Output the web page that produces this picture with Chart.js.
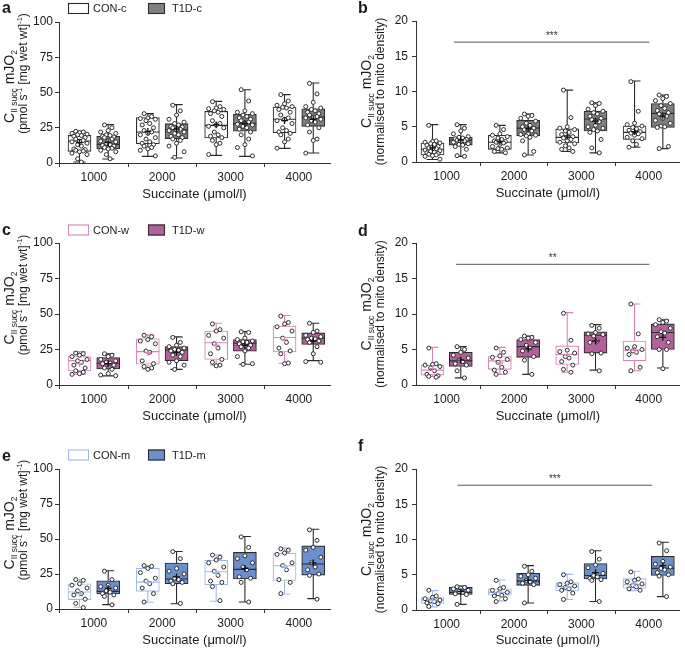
<!DOCTYPE html>
<html><head><meta charset="utf-8">
<script src="https://cdn.jsdelivr.net/npm/chart.js@4.4.0/dist/chart.umd.min.js"></script>
<style>
html,body{margin:0;padding:0;background:#fff;}
#wrap{position:relative;width:685px;height:648px;overflow:hidden;background:#fff;}
canvas{position:absolute;}
</style></head>
<body><div id="wrap">
<canvas id="pa" width="340" height="215" style="left:0;top:0"></canvas>
<canvas id="pb" width="345" height="215" style="left:340px;top:0"></canvas>
<canvas id="pc" width="340" height="215" style="left:0;top:215px"></canvas>
<canvas id="pd" width="345" height="215" style="left:340px;top:215px"></canvas>
<canvas id="pe" width="340" height="218" style="left:0;top:430px"></canvas>
<canvas id="pf" width="345" height="218" style="left:340px;top:430px"></canvas>
</div>
<script>
const FONT = "'Liberation Sans', Arial, Helvetica, sans-serif";
const categories = ['1000', '2000', '3000', '4000'];
const xTitle = 'Succinate (μmol/l)';
const yTicksAbs = [0, 25, 50, 75, 100];
const yTicksNorm = [0, 5, 10, 15, 20];

// box stats per concentration: [min, q1, median, q3, max]
// ---- panel a (-c) absolute
const aConBox = [[0.7, 8.3, 15.6, 19.6, 22.5], [4.7, 13.7, 22.0, 32.2, 35], [5.4, 17.7, 26.7, 36.6, 43.7], [10.4, 21.5, 31, 39.7, 48.5]];
const aConMean = [14.5, 22.5, 27, 30];
const aConPts = [
  [22.5, 22, 21.5, 21, 20.5, 20, 19.5, 19, 18, 17, 16, 15.5, 15, 14, 13, 12, 10, 9.5, 9, 8.5, 8, 7, 6, 3, 0.7],
  [35, 33, 32, 31.5, 31, 30, 28, 27, 25, 23, 22, 21, 20, 18, 17, 15, 14, 13, 12, 11, 10, 9, 5],
  [43.5, 40, 39, 38.5, 38, 37, 36, 35, 33, 30, 28, 27, 26, 25, 22, 20, 19, 18, 16, 14, 13, 6],
  [48.5, 44, 42, 41, 40, 39.5, 39, 38, 36, 34, 32, 31, 30, 28, 25, 23, 22, 21, 20, 17, 15, 10.5]];
const aT1dBox = [[2.8, 9.9, 13.2, 18.9, 27.2], [3.5, 17.3, 23.6, 27.9, 41.4], [4.7, 22.5, 27.9, 34.5, 52], [7.1, 26, 32.6, 38.5, 56.7]];
const aT1dMean = [14.5, 24, 28, 31];
const aT1dPts = [
  [27, 25, 23, 22, 21, 20, 19.5, 19, 18.5, 18, 17, 16, 15.5, 15, 14, 13, 12.5, 12, 11, 10.5, 10, 9, 8, 6, 3],
  [41, 37, 34, 31, 29, 28, 27, 26, 25.5, 25, 24, 23.5, 23, 22, 21, 20, 19, 18, 17, 16, 14, 12, 8, 4],
  [52, 44, 37, 36, 35, 34, 33, 32, 31, 30, 29, 28, 27.5, 27, 26, 25, 24, 22, 20, 17, 13, 11, 5],
  [56.5, 49, 43, 40, 39, 38, 37, 36, 35, 34, 33, 32.5, 32, 31, 30, 29, 27, 25, 22, 17, 16, 7]];

// ---- panel b normalised
const bConBox = [[0.35, 1.0, 1.8, 2.7, 5.3], [1.3, 1.8, 2.8, 3.8, 5.2], [1.5, 2.7, 3.5, 4.7, 10.2], [2.1, 3.2, 4.2, 5.1, 11.5]];
const bConMean = [2.0, 2.9, 3.7, 4.3];
const bConPts = [
  [5.2, 3.0, 2.9, 2.8, 2.7, 2.6, 2.5, 2.4, 2.2, 2.0, 1.9, 1.8, 1.7, 1.6, 1.5, 1.4, 1.3, 1.2, 1.1, 1.0, 0.9, 0.8, 0.4],
  [5.2, 4.6, 4.0, 3.8, 3.6, 3.4, 3.2, 3.0, 2.9, 2.8, 2.7, 2.5, 2.2, 2.0, 1.9, 1.8, 1.5, 1.3],
  [10.2, 6.3, 5.0, 4.8, 4.6, 4.4, 4.2, 3.9, 3.6, 3.4, 3.2, 3.0, 2.8, 2.6, 2.3, 2.0, 1.8, 1.5],
  [11.4, 7.2, 5.5, 5.3, 5.1, 4.9, 4.7, 4.5, 4.3, 4.1, 4.0, 3.8, 3.5, 3.3, 3.0, 2.5, 2.1]];
const bT1dBox = [[0.8, 2.4, 3.1, 3.5, 5.3], [1.0, 3.7, 4.8, 5.9, 6.8], [1.3, 4.4, 6.1, 7.2, 8.4], [1.9, 4.9, 6.9, 8.3, 9.5]];
const bT1dMean = [3.1, 4.7, 5.8, 6.5];
const bT1dPts = [
  [5.3, 4.8, 4.4, 4.0, 3.6, 3.5, 3.4, 3.3, 3.2, 3.1, 3.0, 2.9, 2.8, 2.6, 2.5, 2.4, 2.2, 1.8, 0.9, 0.8],
  [6.8, 6.6, 6.5, 6.2, 5.8, 5.5, 5.2, 5.0, 4.8, 4.6, 4.4, 4.0, 3.9, 3.8, 3.7, 3.5, 3.0, 1.5, 1.0],
  [8.4, 8.3, 8.0, 7.5, 7.2, 7.0, 6.8, 6.5, 6.2, 6.0, 5.7, 5.2, 5.0, 4.8, 4.6, 4.4, 4.2, 3.2, 2.0, 1.3],
  [9.5, 9.3, 9.0, 8.7, 8.3, 8.0, 7.6, 7.3, 7.0, 6.8, 6.5, 6.2, 5.9, 5.5, 5.1, 5.0, 4.9, 2.2, 1.9]];
const bSig = [1.11, 4.01, 17.0];
const bStars = '***';

// ---- panel c (-w) absolute
const cConBox = [[7.5, 9.9, 17.2, 20, 23.5], [11.3, 14.6, 23.5, 32.5, 35.3], [14, 18, 29.8, 38, 43.5], [15.3, 23.3, 33.4, 41.6, 48.9]];
const cConMean = [15, 23, 28, 32];
const cConPts = [
  [22.5, 22, 21, 20, 18, 17, 16, 14, 12, 10, 9, 8, 7.5],
  [35, 34, 32, 31, 29, 24, 23, 17, 15, 13, 12, 11],
  [43, 39, 38, 35, 33, 29, 26, 22, 18, 16, 14, 13.5],
  [48.5, 44, 43, 41, 38, 33, 30, 26, 24, 22, 15.5, 15]];
const cT1dBox = [[6.4, 11.3, 15.3, 19.3, 21.9], [11, 17.2, 24.7, 27, 33.9], [14.6, 23.8, 29.4, 32, 37.6], [17.2, 28.5, 32.9, 36.7, 43.5]];
const cT1dMean = [15, 23, 28, 31];
const cT1dPts = [
  [22, 21, 20, 18, 17, 16, 15.5, 15, 14, 12, 11, 8, 7, 6.5],
  [33.5, 30, 28, 27, 26, 25, 24.5, 24, 23, 21, 20, 17, 16, 14, 11],
  [37.5, 37, 33, 32, 31, 30.5, 30, 29, 28, 27, 26, 24, 20, 15, 14.5],
  [43.5, 38, 37, 35, 34, 33, 32.5, 32, 31, 30, 27, 22, 16.5, 16]];

// ---- panel d normalised
const dConBox = [[1.2, 1.4, 2.1, 2.8, 5.3], [1.5, 2.2, 3.4, 4.0, 5.3], [1.8, 2.9, 4.3, 5.5, 10.2], [2.0, 3.4, 4.9, 6.2, 11.4]];
const dConMean = [2.3, 3.1, 4.3, 4.9];
const dConPts = [
  [5.2, 3.0, 2.9, 2.8, 2.6, 2.4, 2.0, 1.5, 1.3, 1.2, 1.1],
  [5.2, 4.6, 4.1, 3.9, 3.6, 3.2, 2.5, 2.1, 1.8, 1.5],
  [10.1, 6.3, 4.9, 4.7, 4.5, 4.0, 3.8, 3.3, 2.8, 2.2, 1.8],
  [11.4, 7.2, 5.4, 5.2, 5.0, 4.8, 4.6, 4.3, 2.5, 2.0]];
const dT1dBox = [[1.0, 2.6, 3.4, 4.6, 5.4], [1.5, 3.9, 5.4, 6.4, 6.9], [2.1, 4.5, 7.0, 7.5, 8.5], [2.4, 5.0, 7.4, 8.6, 9.2]];
const dT1dMean = [3.5, 5.1, 6.2, 6.7];
const dT1dPts = [
  [5.4, 5.0, 4.6, 4.2, 3.8, 3.5, 3.3, 3.0, 2.8, 2.0, 1.0],
  [6.9, 6.7, 6.6, 6.4, 6.0, 5.6, 5.2, 4.8, 4.0, 3.5, 1.5],
  [8.4, 8.0, 7.4, 7.2, 7.1, 6.9, 6.2, 6.0, 4.5, 4.4, 2.0],
  [9.2, 9.0, 8.8, 8.5, 8.0, 7.5, 7.3, 6.8, 6.0, 5.0, 5.0, 2.3]];
const dSig = [1.14, 4.01, 17.0];
const dStars = '**';

// ---- panel e (-m) absolute
const eConBox = [[1.2, 6.7, 12.1, 18, 20.9], [4.8, 12.6, 19.2, 29.2, 31.1], [5.5, 17.3, 26.6, 34.9, 38.7], [10.7, 20.4, 30.9, 39.9, 43.5]];
const eConMean = [11, 19, 26, 30];
const eConPts = [
  [21, 20.5, 18, 17, 15, 13, 11, 10, 7, 4, 1],
  [31, 30.5, 29, 26, 22, 20, 18, 15, 11, 5],
  [38.5, 37, 35, 33, 30, 27, 24, 20, 19, 16, 6],
  [43, 42, 40, 39, 33, 31, 28, 21, 19, 11]];
const eT1dBox = [[3.1, 10.7, 12.6, 20.2, 27.3], [3.8, 18.1, 21.4, 32.8, 41.1], [5, 21.4, 28.3, 40.4, 51.8], [7.4, 24.2, 32.1, 45.1, 57]];
const eT1dMean = [14.7, 23, 29, 33];
const eT1dPts = [
  [27, 21, 17, 16, 15, 13, 12, 11, 10, 9, 3],
  [41, 36, 29, 27, 25, 22, 21, 20, 19, 18, 4],
  [51.5, 44, 38, 36, 33, 30, 28, 23, 22, 19, 5],
  [56.5, 49, 44, 42, 37, 33, 30, 28, 25, 24, 7]];

// ---- panel f normalised
const fConBox = [[0.45, 0.95, 1.4, 1.75, 2.75], [1.3, 2.1, 2.5, 3.0, 4.25], [1.5, 2.7, 3.3, 3.9, 5.05], [2.75, 3.1, 3.6, 4.45, 5.5]];
const fConMean = [1.4, 2.5, 3.3, 3.7];
const fConPts = [
  [2.8, 2.0, 1.8, 1.6, 1.4, 1.3, 1.2, 1.0, 0.9, 0.5],
  [4.2, 3.2, 3.0, 2.8, 2.5, 2.3, 2.1, 2.0, 1.6, 1.2],
  [5.0, 4.0, 3.8, 3.6, 3.4, 3.2, 3.0, 2.8, 2.4, 1.5],
  [5.4, 4.4, 4.2, 4.0, 3.7, 3.5, 3.3, 3.0, 2.8]];
const fT1dBox = [[0.8, 2.2, 2.5, 3.2, 3.4], [1.0, 3.5, 4.1, 5.2, 6.3], [1.2, 4.4, 4.9, 6.6, 8.4], [1.9, 4.9, 5.9, 7.6, 9.6]];
const fT1dMean = [2.6, 4.2, 5.3, 6.3];
const fT1dPts = [
  [3.3, 3.2, 3.1, 3.0, 2.8, 2.6, 2.5, 2.3, 2.2, 0.8],
  [6.2, 5.5, 5.0, 4.8, 4.5, 4.2, 4.0, 3.8, 3.6, 1.0],
  [8.3, 7.2, 6.4, 6.0, 5.2, 4.9, 4.7, 4.5, 4.3, 4.2, 1.2],
  [9.5, 8.4, 6.9, 6.5, 6.1, 5.9, 5.7, 5.3, 5.0, 4.8, 1.9]];
const fSig = [1.16, 4.05, 17.7];
const fStars = '***';

// ---------------- styling ----------------
const DARK = '#2b2b2b';
const styles = {
  'CON-c': {fill: '#ffffff', stroke: DARK},
  'T1D-c': {fill: '#808080', stroke: DARK},
  'CON-w': {fill: '#ffffff', stroke: '#d586b9'},
  'T1D-w': {fill: '#b4609a', stroke: DARK},
  'CON-m': {fill: '#ffffff', stroke: '#a0b9e6'},
  'T1D-m': {fill: '#6c8fcd', stroke: DARK}
};
const jitterPattern = [-1, 1, 0, -2, 2, -0.5, 0.5, -1.5, 1.5];
const JIT = 0.055, BOX_HALF = 0.168, CAP_HALF = 0.088, GROUP_DX = 0.21;

function groupDatasets(box, mean, pts, dx, st) {
  const lines = [];
  box.forEach((b, i) => {
    const cx = i + 1 + dx;
    const [mn, q1, md, q3, mx] = b;
    lines.push(
      {x: cx, y: q3}, {x: cx, y: mx}, {x: cx, y: null},
      {x: cx - CAP_HALF, y: mx}, {x: cx + CAP_HALF, y: mx}, {x: cx, y: null},
      {x: cx, y: q1}, {x: cx, y: mn}, {x: cx, y: null},
      {x: cx - CAP_HALF, y: mn}, {x: cx + CAP_HALF, y: mn}, {x: cx, y: null},
      {x: cx - BOX_HALF, y: md}, {x: cx + BOX_HALF, y: md}, {x: cx, y: null});
  });
  const points = [];
  pts.forEach((arr, i) => {
    const cx = i + 1 + dx;
    arr.forEach((v, j) => points.push({x: cx + jitterPattern[j % jitterPattern.length] * JIT, y: v}));
  });
  return [
    {type: 'bar', data: box.map((b, i) => ({x: i + 1 + dx, y: [b[1], b[3]]})),
     backgroundColor: st.fill, borderColor: st.stroke, borderWidth: 1.1, borderSkipped: false,
     barThickness: 23, grouped: false, order: 5},
    {type: 'line', data: lines, borderColor: st.stroke, borderWidth: 1.1, pointRadius: 0,
     showLine: true, spanGaps: false, fill: false, tension: 0, order: 4},
    {type: 'scatter', data: points, pointStyle: 'circle', pointRadius: 2.0,
     pointBackgroundColor: '#ffffff', pointBorderColor: '#2b2b2b', pointBorderWidth: 1, showLine: false, order: 3},
    {type: 'scatter', data: mean.map((m, i) => ({x: i + 1 + dx, y: m})), pointStyle: 'cross', pointRadius: 3.4,
     pointBorderColor: st.stroke === DARK ? '#111' : st.stroke, pointBorderWidth: 1.3, showLine: false, order: 2}
  ];
}

function drawRich(ctx, segs, cx, cy) {
  let total = 0;
  segs.forEach(s => { ctx.font = s.sz + 'px ' + FONT; s.w = ctx.measureText(s.t).width; total += s.w; });
  let x = cx - total / 2;
  ctx.textBaseline = 'alphabetic';
  ctx.textAlign = 'left';
  segs.forEach(s => {
    ctx.font = s.sz + 'px ' + FONT;
    ctx.fillText(s.t, x, cy + (s.dy || 0));
    x += s.w;
  });
}

const decoPlugin = {
  id: 'deco',
  afterDraw(chart, args, o) {
    const ctx = chart.ctx;
    const area = chart.chartArea;
    ctx.save();
    ctx.fillStyle = '#1a1a1a';
    ctx.font = 'bold 16px ' + FONT;
    ctx.textAlign = 'left'; ctx.textBaseline = 'alphabetic';
    ctx.fillText(o.letter, o.letterX, o.letterY);
    const cy = (area.top + area.bottom) / 2;
    o.yLines.forEach((ln, k) => {
      ctx.save();
      ctx.translate(o.yTitleX[k], cy + o.yTitleDY[k]);
      ctx.rotate(-Math.PI / 2);
      ctx.fillStyle = '#1a1a1a';
      drawRich(ctx, ln, 0, 0);
      ctx.restore();
    });
    if (o.legend) {
      o.legend.items.forEach(it => {
        const st = styles[it.name];
        ctx.fillStyle = st.fill;
        ctx.strokeStyle = st.stroke;
        ctx.lineWidth = 1.1;
        ctx.fillRect(it.bx, o.legend.y - 5.5, it.bw, 11);
        ctx.strokeRect(it.bx + 0.5, o.legend.y - 5.5 + 0.5, it.bw - 1, 10);
        ctx.fillStyle = '#1a1a1a';
        ctx.font = '11px ' + FONT;
        ctx.textBaseline = 'middle';
        ctx.fillText(it.name, it.tx, o.legend.y + 0.5);
      });
    }
    if (o.sig) {
      const xs = chart.scales.x, ys = chart.scales.y;
      ctx.fillStyle = '#333';
      ctx.font = '10px ' + FONT;
      ctx.textAlign = 'center'; ctx.textBaseline = 'middle';
      ctx.fillText(o.stars, xs.getPixelForValue((o.sig[0] + o.sig[1]) / 2), ys.getPixelForValue(o.sig[2]) - 6);
    }
    ctx.restore();
  }
};

const line1 = [{t: 'C', sz: 14}, {t: 'II succ', sz: 8.5, dy: 3}, {t: ' mJO', sz: 14}, {t: '2', sz: 8.5, dy: 3}];
const line2Abs = [{t: '(pmol s', sz: 12}, {t: '-1', sz: 7.5, dy: -5}, {t: ' [mg wet wt]', sz: 12}, {t: '-1', sz: 7.5, dy: -5}, {t: ')', sz: 12}];
const line2Norm = [{t: '(normalised to mito density)', sz: 12}];

function makePanel(id, p) {
  const canvas = document.getElementById(id);
  const W = canvas.width, H = canvas.height;
  const a = p.area;
  const datasets = [];
  p.groups.forEach((g, gi) => {
    const dx = gi === 0 ? -GROUP_DX : GROUP_DX;
    datasets.push(...groupDatasets(g.box, g.mean, g.pts, dx, styles[g.name]));
  });
  if (p.sig) {
    datasets.push({type: 'line', data: [{x: p.sig[0], y: p.sig[2]}, {x: p.sig[1], y: p.sig[2]}],
      borderColor: '#555', borderWidth: 1, pointRadius: 0, showLine: true, order: 1});
  }
  const yt = p.yTicks;
  new Chart(canvas, {
    type: 'scatter',
    data: {datasets},
    options: {
      responsive: false, animation: false, events: [], devicePixelRatio: 1,
      layout: {padding: {left: 0, top: a.t, right: W - a.r, bottom: H - a.b - p.xH}},
      plugins: {legend: {display: false}, tooltip: {enabled: false}, deco: p.deco},
      scales: {
        x: {
          type: 'linear', min: p.xMin, max: p.xMax, offset: false,
          afterBuildTicks: s => { s.ticks = categories.map((c, i) => ({value: i + 1})); },
          afterFit: s => { s.height = p.xH; },
          grid: {display: true, drawOnChartArea: false, drawTicks: true, tickLength: 4, color: '#333', lineWidth: 1},
          border: {display: true, color: '#333', width: 1},
          ticks: {autoSkip: false, maxRotation: 0, padding: 3, color: '#1a1a1a', font: {family: FONT, size: 12},
                  callback: (v, i) => categories[i]},
          title: {display: true, text: xTitle, color: '#1a1a1a', padding: 0, font: {family: FONT, size: 13, lineHeight: 1.2}}
        },
        y: {
          type: 'linear', min: yt[0], max: yt[yt.length - 1],
          afterBuildTicks: s => { s.ticks = yt.map(v => ({value: v})); },
          afterFit: s => { s.width = a.l; },
          grid: {display: true, drawOnChartArea: false, drawTicks: true, tickLength: 4, color: '#333', lineWidth: 1},
          border: {display: true, color: '#333', width: 1},
          ticks: {padding: p.yPad, color: '#1a1a1a', font: {family: FONT, size: 12}},
          title: {display: false}
        }
      }
    },
    plugins: [decoPlugin]
  });
}

function legendFor(names, y) {
  return {y, items: [
    {name: names[0], bx: 68, bw: 21, tx: 93},
    {name: names[1], bx: 148, bw: 17, tx: 172}]};
}

const leftDeco = (letter, ly, legNames, legY) => ({
  letter, letterX: 2, letterY: ly,
  yLines: [line1, line2Abs], yTitleX: [14, 27], yTitleDY: [-6, -19],
  legend: legendFor(legNames, legY)
});
const rightDeco = (letter, ly, sig, stars) => ({
  letter, letterX: 18, letterY: ly,
  yLines: [line1, line2Norm], yTitleX: [31, 44], yTitleDY: [0, 0],
  sig, stars
});

makePanel('pa', {area: {l: 59, t: 22, r: 330, b: 163}, xH: 39, xMin: 0.49, xMax: 4.455, yPad: 2, yTicks: yTicksAbs,
  groups: [{name: 'CON-c', box: aConBox, mean: aConMean, pts: aConPts}, {name: 'T1D-c', box: aT1dBox, mean: aT1dMean, pts: aT1dPts}],
  deco: leftDeco('a', 13, ['CON-c', 'T1D-c'], 8.5)});
makePanel('pb', {area: {l: 76, t: 21, r: 345, b: 162}, xH: 39, xMin: 0.545, xMax: 4.46, yPad: 4, yTicks: yTicksNorm,
  groups: [{name: 'CON-c', box: bConBox, mean: bConMean, pts: bConPts}, {name: 'T1D-c', box: bT1dBox, mean: bT1dMean, pts: bT1dPts}],
  sig: bSig, deco: rightDeco('b', 13, bSig, bStars)});
makePanel('pc', {area: {l: 59, t: 28, r: 330, b: 170}, xH: 39, xMin: 0.49, xMax: 4.455, yPad: 2, yTicks: yTicksAbs,
  groups: [{name: 'CON-w', box: cConBox, mean: cConMean, pts: cConPts}, {name: 'T1D-w', box: cT1dBox, mean: cT1dMean, pts: cT1dPts}],
  deco: leftDeco('c', 19.5, ['CON-w', 'T1D-w'], 15)});
makePanel('pd', {area: {l: 76, t: 28, r: 345, b: 170}, xH: 39, xMin: 0.545, xMax: 4.46, yPad: 4, yTicks: yTicksNorm,
  groups: [{name: 'CON-w', box: dConBox, mean: dConMean, pts: dConPts}, {name: 'T1D-w', box: dT1dBox, mean: dT1dMean, pts: dT1dPts}],
  sig: dSig, deco: rightDeco('d', 20.5, dSig, dStars)});
makePanel('pe', {area: {l: 59, t: 39, r: 330, b: 179}, xH: 39, xMin: 0.49, xMax: 4.455, yPad: 2, yTicks: yTicksAbs,
  groups: [{name: 'CON-m', box: eConBox, mean: eConMean, pts: eConPts}, {name: 'T1D-m', box: eT1dBox, mean: eT1dMean, pts: eT1dPts}],
  deco: leftDeco('e', 30.5, ['CON-m', 'T1D-m'], 25)});
makePanel('pf', {area: {l: 76, t: 39, r: 345, b: 180}, xH: 38, xMin: 0.545, xMax: 4.46, yPad: 4, yTicks: yTicksNorm,
  groups: [{name: 'CON-m', box: fConBox, mean: fConMean, pts: fConPts}, {name: 'T1D-m', box: fT1dBox, mean: fT1dMean, pts: fT1dPts}],
  sig: fSig, deco: rightDeco('f', 20.5, fSig, fStars)});
</script>
</body></html>
